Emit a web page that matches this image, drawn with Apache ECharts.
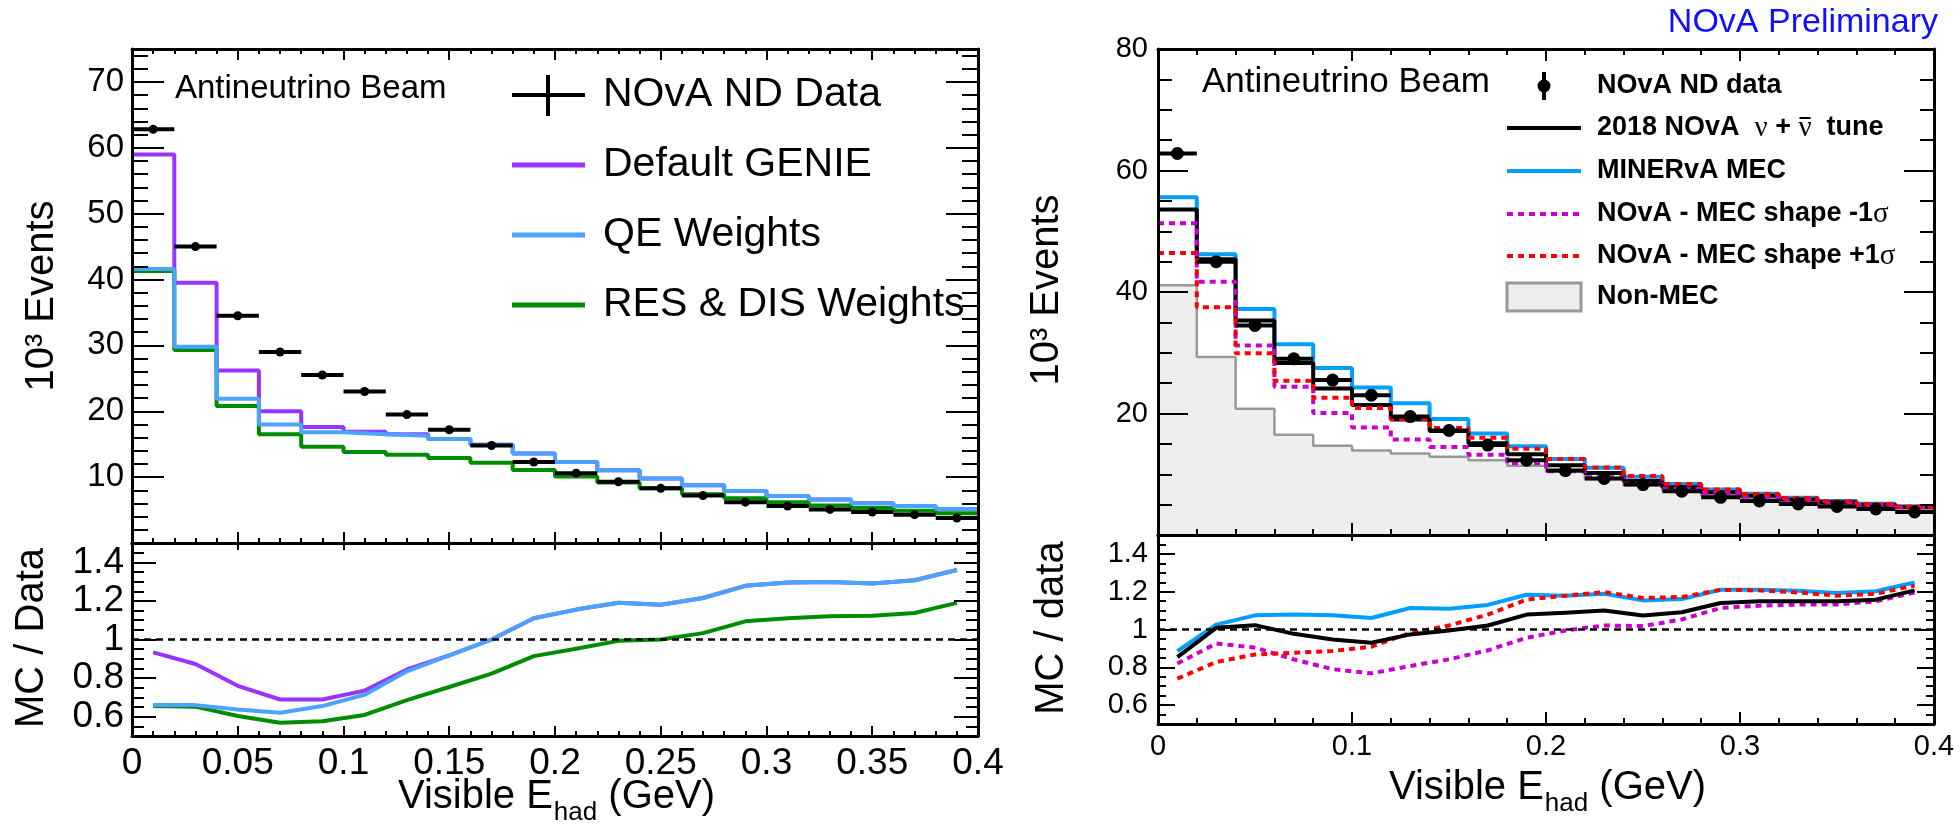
<!DOCTYPE html>
<html>
<head>
<meta charset="utf-8">
<script src="https://cdn.jsdelivr.net/npm/echarts@6/dist/echarts.min.js"></script>
<style>
  html, body { margin: 0; padding: 0; background: #fff; }
  #chart { width: 1960px; height: 828px; }
</style>
</head>
<body>
<div id="chart"></div>
<script>
// ---- Binning (Visible E_had, GeV) ----
const BIN_EDGES = [0, 0.02, 0.04, 0.06, 0.08, 0.1, 0.12, 0.14, 0.16, 0.18, 0.2,
                   0.22, 0.24, 0.26, 0.28, 0.3, 0.32, 0.34, 0.36, 0.38, 0.4];

// ---- ND data (10^3 events per bin) ----
const ndData = [62.8, 45.0, 34.5, 29.0, 25.5, 23.0, 19.5, 17.2, 14.8, 12.3,
                10.6, 9.3, 8.3, 7.2, 6.2, 5.6, 5.1, 4.7, 4.3, 3.8];

// ---- Left: generator weight variations (10^3 events) ----
const defaultGenie = [59.0, 39.5, 26.2, 20.0, 17.6, 16.9, 16.5, 15.8, 14.9, 13.6,
                      12.3, 11.05, 9.8, 8.75, 7.9, 7.15, 6.6, 6.05, 5.6, 5.15];
const qeWeights    = [41.6, 29.8, 21.9, 18.0, 16.8, 16.5, 16.3, 15.8, 14.9, 13.6,
                      12.3, 11.05, 9.8, 8.75, 7.9, 7.15, 6.6, 6.05, 5.6, 5.15];
const resDisWeights = [41.3, 29.3, 20.8, 16.5, 14.6, 13.8, 13.4, 12.9, 12.2, 11.1,
                       10.1, 9.2, 8.3, 7.4, 6.8, 6.2, 5.7, 5.3, 4.9, 4.5];

// ---- Left: MC / Data ratios ----
const ratioGenie  = [0.933, 0.873, 0.76, 0.689, 0.689, 0.735, 0.845, 0.918, 1.0, 1.11,
                     1.155, 1.19, 1.18, 1.215, 1.278, 1.295, 1.298, 1.29, 1.307, 1.36];
const ratioQE     = [0.66, 0.66, 0.637, 0.62, 0.655, 0.714, 0.835, 0.918, 1.0, 1.11,
                     1.155, 1.19, 1.18, 1.215, 1.278, 1.295, 1.298, 1.29, 1.307, 1.36];
const ratioResDis = [0.655, 0.652, 0.604, 0.569, 0.576, 0.609, 0.686, 0.754, 0.823, 0.914,
                     0.952, 0.993, 1.0, 1.033, 1.094, 1.11, 1.12, 1.123, 1.137, 1.19];

// ---- Right: MEC model comparisons (10^3 events) ----
const tune2018   = [53.6, 45.4, 35.3, 28.3, 24.1, 21.4, 19.0, 17.1, 15.1, 13.3,
                    11.5, 10.2, 8.9, 7.85, 7.05, 6.45, 5.85, 5.4, 4.98, 4.59];
const minervaMec = [55.6, 46.2, 37.2, 31.4, 27.5, 24.3, 21.7, 19.1, 16.7, 14.6,
                    12.5, 11.05, 9.6, 8.4, 7.5, 6.8, 6.15, 5.6, 5.15, 4.75];
const mecShapeMinus = [51.3, 41.7, 31.2, 24.4, 20.1, 17.7, 15.7, 14.5, 13.2, 11.8,
                       10.5, 9.5, 8.45, 7.6, 6.9, 6.3, 5.8, 5.3, 4.95, 4.55];
const mecShapePlus  = [46.4, 37.5, 29.9, 25.4, 22.6, 20.9, 19.1, 17.6, 16.0, 14.2,
                       12.5, 11.1, 9.7, 8.4, 7.5, 6.75, 6.1, 5.55, 5.1, 4.68];
const nonMec = [41.1, 29.3, 20.8, 16.5, 14.7, 13.9, 13.4, 12.9, 12.3, 11.4,
                10.4, 9.2, 8.2, 7.3, 6.5, 5.9, 5.4, 4.95, 4.55, 4.2];

// ---- Right: MC / data ratios ----
const ratioTune    = [0.854, 1.009, 1.023, 0.977, 0.947, 0.93, 0.974, 0.995, 1.021, 1.079,
                      1.088, 1.1, 1.074, 1.091, 1.14, 1.149, 1.149, 1.149, 1.158, 1.207];
const ratioMinerva = [0.886, 1.026, 1.075, 1.079, 1.075, 1.061, 1.114, 1.11, 1.13, 1.184,
                      1.179, 1.189, 1.154, 1.161, 1.21, 1.21, 1.205, 1.193, 1.202, 1.249];
const ratioMinus   = [0.82, 0.926, 0.904, 0.842, 0.79, 0.768, 0.807, 0.842, 0.89, 0.956,
                      0.995, 1.021, 1.018, 1.053, 1.114, 1.126, 1.132, 1.132, 1.149, 1.196];
const ratioPlus    = [0.74, 0.828, 0.868, 0.877, 0.886, 0.909, 0.982, 1.021, 1.079, 1.158,
                      1.179, 1.198, 1.167, 1.172, 1.21, 1.207, 1.196, 1.179, 1.189, 1.232];

// ---- Tick labels ----
const leftXLabels  = [0, 0.05, 0.1, 0.15, 0.2, 0.25, 0.3, 0.35, 0.4];
const rightXLabels = [0, 0.1, 0.2, 0.3, 0.4];
const leftYLabels  = [10, 20, 30, 40, 50, 60, 70];
const rightYLabels = [20, 40, 60, 80];
const ratioYLabels = [0.6, 0.8, 1, 1.2, 1.4];

// ---------------------------------------------------------------------------
const FONT = 'Liberation Sans';
const SERIF = 'Liberation Serif';
const C = {
  purple: '#9933ff', qeBlue: '#4aa3ff', green: '#008c00',
  black: '#000000', minerva: '#009fff', magenta: '#cc00cc', red: '#ff0000',
  fill: '#eeeeee', fillLine: '#999999', prelim: '#1010ff'
};

function seq(a, b, step) {
  const out = [];
  const n = Math.round((b - a) / step);
  for (let i = 0; i <= n; i++) out.push(+(a + i * step).toFixed(6));
  return out;
}
const fmt = v => String(Math.round(v * 100) / 100);

// step outline: value held across each bin, last edge closes the histogram
function histSteps(vals) {
  const pts = vals.map((v, i) => [BIN_EDGES[i], v]);
  pts.push([BIN_EDGES[vals.length], vals[vals.length - 1]]);
  return pts;
}
function binPoints(vals) {
  return vals.map((v, i) => [(BIN_EDGES[i] + BIN_EDGES[i + 1]) / 2, v, (BIN_EDGES[i + 1] - BIN_EDGES[i]) / 2]);
}
function centerLine(vals) {
  return vals.map((v, i) => [(BIN_EDGES[i] + BIN_EDGES[i + 1]) / 2, v]);
}

// ---- Frames: each side of each pad gets a major and a minor tick axis ----
const xAxes = [], yAxes = [];
function sideAxes(list, grid, position, range, t, label) {
  const base = {
    type: 'value', gridIndex: grid, position, min: range[0], max: range[1], z: 10,
    silent: true, splitLine: { show: false }, splitArea: { show: false }
  };
  const idx = list.length;
  list.push(Object.assign({}, base, {
    axisLine: { show: true, onZero: false, lineStyle: { color: '#000', width: 3 } },
    axisTick: { show: t.majorLen > 0, inside: true, length: t.majorLen, customValues: t.major,
                lineStyle: { color: '#000', width: 2 } },
    axisLabel: label ? { show: true, customValues: label.values, formatter: fmt, fontFamily: FONT,
                         fontSize: label.size, color: '#000', margin: label.margin }
                     : { show: false }
  }));
  list.push(Object.assign({}, base, {
    axisLine: { show: false, onZero: false },
    axisTick: { show: t.minorLen > 0, inside: true, length: t.minorLen, customValues: t.minor,
                lineStyle: { color: '#000', width: 2 } },
    axisLabel: { show: false }
  }));
  return idx;
}

const grids = [
  { left: 132,  top: 49,  width: 846, height: 494 },
  { left: 132,  top: 543, width: 846, height: 193 },
  { left: 1158, top: 49,  width: 776, height: 486 },
  { left: 1158, top: 535, width: 776, height: 189 }
];

const X_RANGE = [0, 0.4];
const leftXMajor = seq(0, 0.4, 0.05), leftXMinor = seq(0, 0.4, 0.01);
const rightXMajor = seq(0, 0.4, 0.1), rightXMinor = seq(0, 0.4, 0.02);
const ratioMajor = seq(0.6, 1.4, 0.2), ratioMinor = seq(0.5, 1.5, 0.05);

// pad 0: left spectrum
const gx0 = sideAxes(xAxes, 0, 'bottom', X_RANGE, { major: leftXMajor, minor: leftXMinor, majorLen: 11, minorLen: 5 });
sideAxes(xAxes, 0, 'top', X_RANGE, { major: leftXMajor, minor: leftXMinor, majorLen: 11, minorLen: 5 });
const gy0 = sideAxes(yAxes, 0, 'left', [0, 75], { major: seq(0, 70, 10), minor: seq(0, 74, 2), majorLen: 32, minorLen: 16 },
                     { values: leftYLabels, size: 33, margin: 8 });
sideAxes(yAxes, 0, 'right', [0, 75], { major: seq(0, 70, 10), minor: seq(0, 74, 2), majorLen: 32, minorLen: 16 });

// pad 1: left ratio
const gx1 = sideAxes(xAxes, 1, 'bottom', X_RANGE, { major: leftXMajor, minor: leftXMinor, majorLen: 10, minorLen: 5 },
                     { values: leftXLabels, size: 37, margin: 9 });
sideAxes(xAxes, 1, 'top', X_RANGE, { major: leftXMajor, minor: leftXMinor, majorLen: 7, minorLen: 0 });
const gy1 = sideAxes(yAxes, 1, 'left', [0.5, 1.5], { major: ratioMajor, minor: ratioMinor, majorLen: 24, minorLen: 12 },
                     { values: ratioYLabels, size: 37, margin: 8 });
sideAxes(yAxes, 1, 'right', [0.5, 1.5], { major: ratioMajor, minor: ratioMinor, majorLen: 24, minorLen: 12 });

// pad 2: right spectrum
const gx2 = sideAxes(xAxes, 2, 'bottom', X_RANGE, { major: rightXMajor, minor: rightXMinor, majorLen: 12, minorLen: 6 });
sideAxes(xAxes, 2, 'top', X_RANGE, { major: rightXMajor, minor: rightXMinor, majorLen: 12, minorLen: 6 });
const gy2 = sideAxes(yAxes, 2, 'left', [0, 80], { major: seq(0, 80, 20), minor: seq(0, 80, 5), majorLen: 30, minorLen: 14 },
                     { values: rightYLabels, size: 29, margin: 10 });
sideAxes(yAxes, 2, 'right', [0, 80], { major: seq(0, 80, 20), minor: seq(0, 80, 5), majorLen: 30, minorLen: 14 });

// pad 3: right ratio
const gx3 = sideAxes(xAxes, 3, 'bottom', X_RANGE, { major: rightXMajor, minor: rightXMinor, majorLen: 12, minorLen: 6 },
                     { values: rightXLabels, size: 29, margin: 8 });
sideAxes(xAxes, 3, 'top', X_RANGE, { major: rightXMajor, minor: rightXMinor, majorLen: 6, minorLen: 0 });
const gy3 = sideAxes(yAxes, 3, 'left', [0.5, 1.5], { major: ratioMajor, minor: ratioMinor, majorLen: 17, minorLen: 8 },
                     { values: ratioYLabels, size: 29, margin: 10 });
sideAxes(yAxes, 3, 'right', [0.5, 1.5], { major: ratioMajor, minor: ratioMinor, majorLen: 17, minorLen: 8 });

// ---- Series helpers ----
function hist(xi, yi, vals, color, width, dash, extra) {
  return Object.assign({
    type: 'line', xAxisIndex: xi, yAxisIndex: yi, data: histSteps(vals), step: 'end',
    symbol: 'none', silent: true, animation: false,
    lineStyle: { color, width, type: dash || 'solid', cap: 'butt' }
  }, extra || {});
}
function ratio(xi, yi, vals, color, width, dash, extra) {
  return Object.assign({
    type: 'line', xAxisIndex: xi, yAxisIndex: yi, data: centerLine(vals),
    symbol: 'none', silent: true, animation: false,
    lineStyle: { color, width, type: dash || 'solid', join: 'round' }
  }, extra || {});
}
function dataPoints(xi, yi, vals, barWidth, radius) {
  return {
    type: 'custom', xAxisIndex: xi, yAxisIndex: yi, data: binPoints(vals), silent: true, animation: false, z: 5,
    renderItem(params, api) {
      const x = api.value(0), y = api.value(1), h = api.value(2);
      const a = api.coord([x - h, y]), b = api.coord([x + h, y]), c = api.coord([x, y]);
      return { type: 'group', children: [
        { type: 'line', shape: { x1: a[0], y1: a[1], x2: b[0], y2: b[1] }, style: { stroke: '#000', lineWidth: barWidth } },
        { type: 'circle', shape: { cx: c[0], cy: c[1], r: radius }, style: { fill: '#000' } }
      ] };
    }
  };
}
const unityLine = {
  silent: true, symbol: ['none', 'none'], animation: false,
  label: { show: false },
  lineStyle: { color: '#000', width: 2.5, type: [7, 5] },
  data: [{ yAxis: 1 }]
};

const series = [
  // left spectrum
  hist(gx0, gy0, defaultGenie, C.purple, 4),
  hist(gx0, gy0, resDisWeights, C.green, 4),
  hist(gx0, gy0, qeWeights, C.qeBlue, 4),
  dataPoints(gx0, gy0, ndData, 4, 4.5),
  // left ratio
  ratio(gx1, gy1, ratioGenie, C.purple, 4, null, { markLine: unityLine }),
  ratio(gx1, gy1, ratioResDis, C.green, 4),
  ratio(gx1, gy1, ratioQE, C.qeBlue, 4),
  // right spectrum
  hist(gx2, gy2, nonMec, C.fillLine, 2.5, null, { areaStyle: { color: C.fill, opacity: 1 } }),
  hist(gx2, gy2, minervaMec, C.minerva, 4),
  hist(gx2, gy2, tune2018, C.black, 4),
  hist(gx2, gy2, mecShapeMinus, C.magenta, 4, [6, 5]),
  hist(gx2, gy2, mecShapePlus, C.red, 4, [6, 5]),
  dataPoints(gx2, gy2, ndData, 4, 6.5),
  // right ratio
  ratio(gx3, gy3, ratioMinerva, C.minerva, 4, null, { markLine: unityLine }),
  ratio(gx3, gy3, ratioMinus, C.magenta, 4, [6, 5]),
  ratio(gx3, gy3, ratioPlus, C.red, 4, [6, 5]),
  ratio(gx3, gy3, ratioTune, C.black, 4)
];

// ---- Titles, labels and legends ----
function text(x, y, str, o) {
  o = o || {};
  return {
    type: 'text', x, y, rotation: o.rotation || 0, silent: true, z: 20,
    style: {
      text: str, fontFamily: o.family || FONT, fontSize: o.size || 30, fontWeight: o.weight || 'normal',
      fill: o.color || '#000', align: o.align || 'left', verticalAlign: o.valign || 'middle',
      rich: o.rich
    }
  };
}
function seg(x1, y1, x2, y2, color, width, dash) {
  return { type: 'line', silent: true, z: 20, shape: { x1, y1, x2, y2 },
           style: { stroke: color, lineWidth: width, lineDash: dash || null } };
}

const measureCtx = document.createElement('canvas').getContext('2d');
function textWidth(str, size, family, weight) {
  measureCtx.font = (weight || 'normal') + ' ' + size + 'px "' + (family || FONT) + '"';
  return measureCtx.measureText(str).width;
}
// "Visible E_had (GeV)": three pieces laid out side by side, subscript lowered
function subscriptTitle(cx, cy, main, sub, tail, size, subSize, drop) {
  const w1 = textWidth(main, size), w2 = textWidth(sub, subSize), w3 = textWidth(tail, size);
  const x0 = cx - (w1 + w2 + w3) / 2;
  return [
    text(x0, cy, main, { size }),
    text(x0 + w1 + 1, cy + drop, sub, { size: subSize }),
    text(x0 + w1 + w2 + 1, cy, tail, { size })
  ];
}

const ROT = Math.PI / 2;
const legB = { fontFamily: FONT, fontSize: 27, fontWeight: 'bold' };
const legG = { fontFamily: SERIF, fontSize: 29, fontWeight: 'normal' };

// tune entry: "2018 NOvA ν + ν̄ tune" with the bar drawn over the antineutrino symbol
const TUNE_X = 1597, TUNE_Y = 128;
const nuW = textWidth('ν', 29, SERIF);
const barX = TUNE_X + textWidth('2018 NOvA  ', 27, FONT, 'bold') + nuW + textWidth(' + ', 27, FONT, 'bold');

const graphics = [
  // axis titles
  text(42, 296, '10³ Events', { size: 40, rotation: ROT, align: 'center' }),
  text(32, 638, 'MC / Data', { size: 40, rotation: ROT, align: 'center' }),
  ...subscriptTitle(556, 797, 'Visible E', 'had', ' (GeV)', 40, 26, 16),
  text(1047, 290, '10³ Events', { size: 40, rotation: ROT, align: 'center' }),
  text(1052, 628, 'MC / data', { size: 40, rotation: ROT, align: 'center' }),
  ...subscriptTitle(1547, 788, 'Visible E', 'had', ' (GeV)', 40, 26, 16),
  text(1938, 23, 'NOvA Preliminary', { size: 34, color: C.prelim, align: 'right' }),

  // left pad annotations
  text(175, 89, 'Antineutrino Beam', { size: 33 }),
  seg(512, 95, 585, 95, '#000', 4), seg(548, 75, 548, 116, '#000', 4),
  text(603, 95, 'NOvA ND Data', { size: 41 }),
  seg(512, 165, 585, 165, C.purple, 5),
  text(603, 165, 'Default GENIE', { size: 41 }),
  seg(512, 235, 585, 235, C.qeBlue, 5),
  text(603, 235, 'QE Weights', { size: 41 }),
  seg(512, 305, 585, 305, C.green, 5),
  text(603, 305, 'RES & DIS Weights', { size: 41 }),

  // right pad annotations
  text(1202, 82, 'Antineutrino Beam', { size: 35 }),
  seg(1544, 72, 1544, 100, '#000', 4),
  { type: 'circle', silent: true, z: 20, shape: { cx: 1544, cy: 86, r: 6.5 }, style: { fill: '#000' } },
  text(1597, 86, '{b|NOvA ND data}', { rich: { b: legB } }),
  seg(1507, TUNE_Y, 1581, TUNE_Y, C.black, 4),
  text(TUNE_X, TUNE_Y, '{b|2018 NOvA  }{g|ν}{b| + }{g|ν}{b|  tune}', { rich: { b: legB, g: legG } }),
  seg(barX + 1, TUNE_Y - 10, barX + nuW - 1, TUNE_Y - 10, '#000', 2),
  seg(1507, 171, 1581, 171, C.minerva, 4),
  text(1597, 171, '{b|MINERvA MEC}', { rich: { b: legB } }),
  seg(1507, 214, 1581, 214, C.magenta, 4, [6, 5]),
  text(1597, 214, '{b|NOvA - MEC shape -1}{g|σ}', { rich: { b: legB, g: legG } }),
  seg(1507, 256, 1581, 256, C.red, 4, [6, 5]),
  text(1597, 256, '{b|NOvA - MEC shape +1}{g|σ}', { rich: { b: legB, g: legG } }),
  { type: 'rect', silent: true, z: 20, shape: { x: 1507, y: 283, width: 74, height: 28 },
    style: { fill: C.fill, stroke: C.fillLine, lineWidth: 3 } },
  text(1597, 297, '{b|Non-MEC}', { rich: { b: legB } })
];

const chart = echarts.init(document.getElementById('chart'), null, { renderer: 'canvas', width: 1960, height: 828 });
chart.setOption({
  animation: false,
  backgroundColor: '#ffffff',
  grid: grids,
  xAxis: xAxes,
  yAxis: yAxes,
  series,
  graphic: graphics
});
</script>
</body>
</html>
